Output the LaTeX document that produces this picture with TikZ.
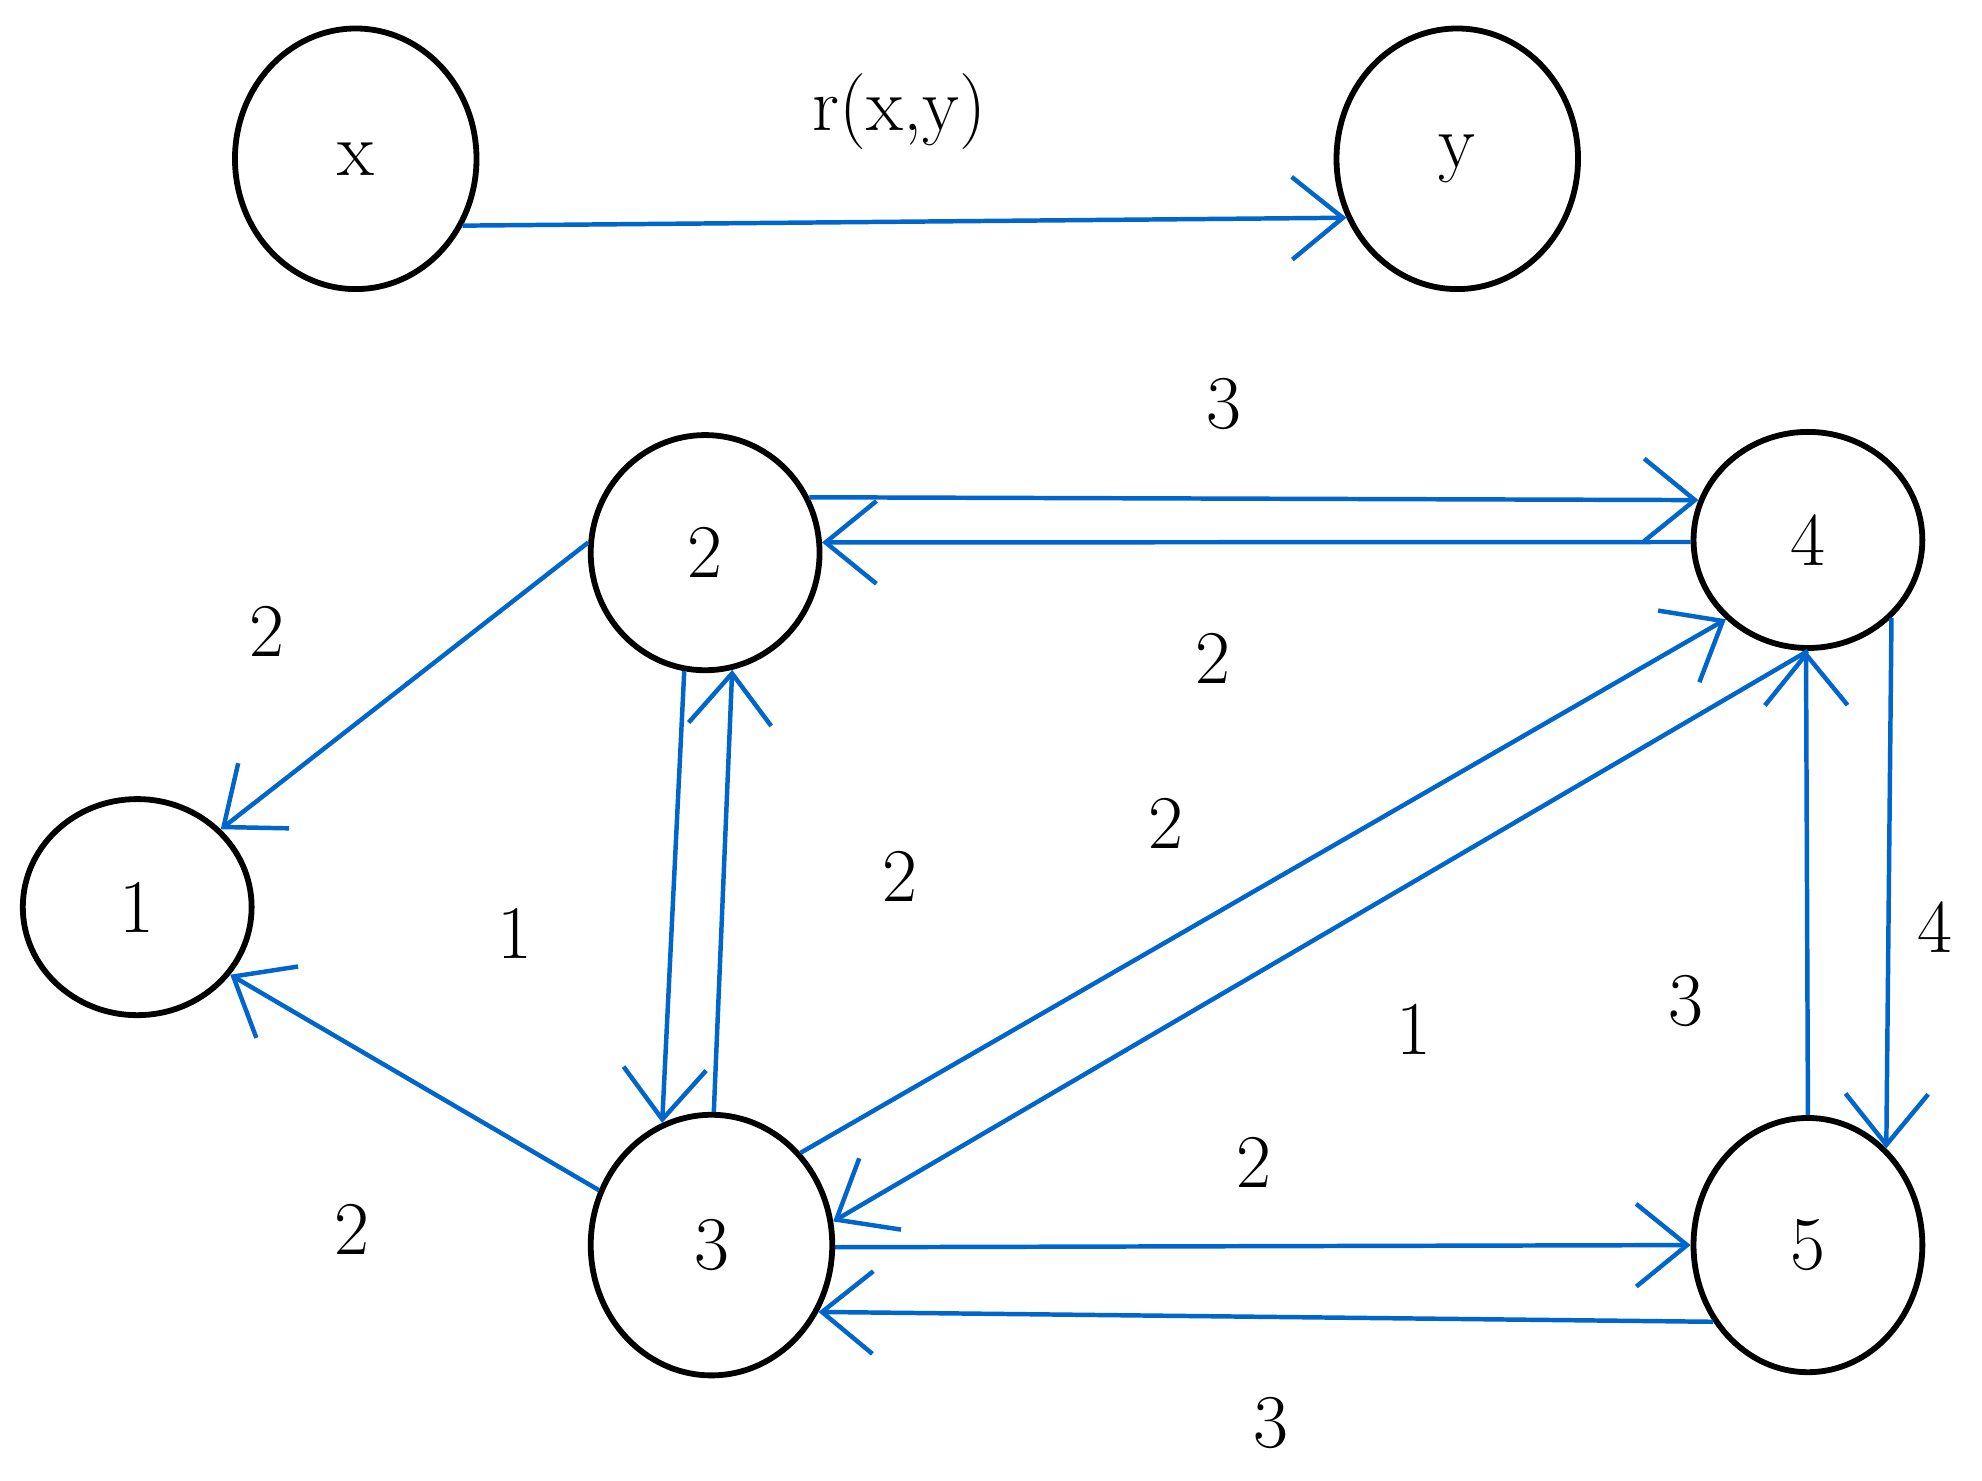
\documentclass[tikz,border=0pt]{standalone}
\usepackage{tikz}
\usetikzlibrary{arrows.meta, shapes.geometric}
\definecolor{edgeBlue}{RGB}{0,102,204}
\tikzset{>={Straight Barb[length=4mm,width=6.5mm]}}

\begin{document}
\begin{tikzpicture}[
    x = 0.01cm,
    y = -0.01cm,
    font = \fontsize{17}{20}\selectfont,
    state/.style = {ellipse, draw, line width = 1.3pt, inner sep = 0pt},
    big/.style = {state, minimum width = 1.9cm, minimum height = 2.05cm},
    small/.style = {state, minimum width = 1.8cm, minimum height = 1.85cm},
    flow/.style = {->, draw = edgeBlue, line width = 1pt},
    weight/.style = {}
  ]
    \useasboundingbox (0, 0) rectangle (1560, 1165);
    \node[big] (x) at (280, 125) {x};
    \node[big] (y) at (1147, 125) {y};
    \node[small] (n2) at (555, 435) {2};
    \node[state, minimum width = 1.8cm, minimum height = 1.7cm] (n4) at (1423, 425) {4};
    \node[state, minimum width = 1.8cm, minimum height = 1.7cm] (n1) at (108, 714) {1};
    \node[big] (n3) at (560, 980) {3};
    \node[state, minimum width = 1.8cm, minimum height = 2cm] (n5) at (1423, 980) {5};
    \node[weight] (rxy) at (708, 88) {r(x,y)};
    \draw[flow] (x.-32) -- (y.-152);
    \draw[flow] (n2.28) -- (n4.160);
    \draw[flow] (n4.181) -- (n2.5);
    \draw[flow] (n2.175) -- (n1.43);
    \draw[flow] (n2.-100) -- (n3.112);
    \draw[flow] (n3.89) -- (n2.-77);
    \draw[flow] (n3.154) -- (n1.-36);
    \draw[flow] (n3.46) -- (n4.-136);
    \draw[flow] (n4.-90) -- (n3.11);
    \draw[flow] (n3.-1) -- (n5.180);
    \draw[flow] (n5.-141) -- (n3.-32);
    \draw[flow] (n5.90) -- (n4.-91);
    \draw[flow] (n4.-43) -- (n5.51);
    \node[weight] (w24) at (963, 318) {3};
    \node[weight] (w42) at (955, 518) {2};
    \node[weight] (w21) at (210, 497) {2};
    \node[weight] (w23) at (405, 735) {1};
    \node[weight] (w32) at (708, 690) {2};
    \node[weight] (w31) at (277, 968) {2};
    \node[weight] (w34) at (918, 648) {2};
    \node[weight] (w43) at (1113, 810) {1};
    \node[weight] (w35) at (987, 915) {2};
    \node[weight] (w53) at (1000, 1120) {3};
    \node[weight] (w54) at (1327, 788) {3};
    \node[weight] (w45) at (1523, 730) {4};
  \end{tikzpicture}
\end{document}
